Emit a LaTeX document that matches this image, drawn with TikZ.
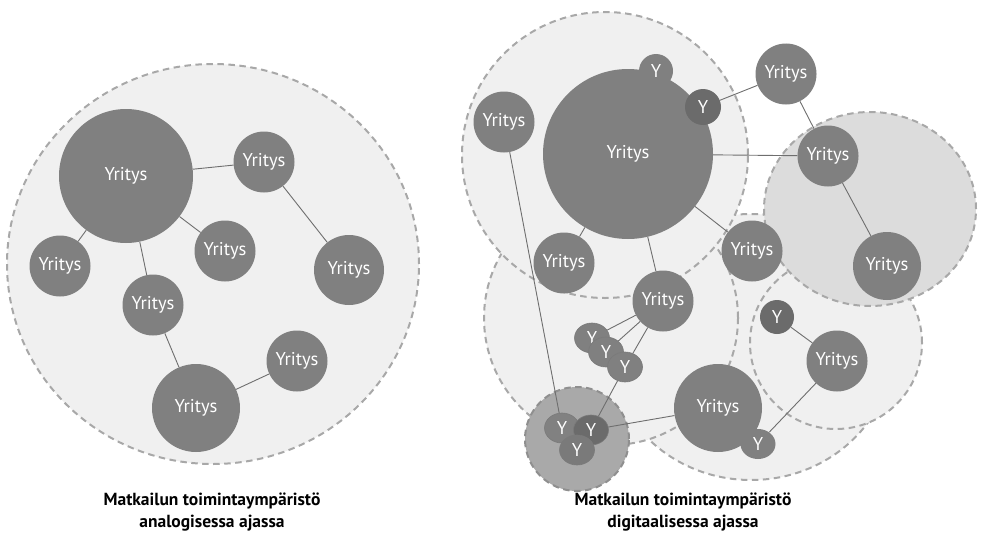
\documentclass[tikz,border=0pt]{standalone}
\usepackage{fontspec}
\setmainfont{PT Sans}
\usepackage{tikz}
\usetikzlibrary{shapes.geometric}
\definecolor{firmgray}{HTML}{808080}
\definecolor{firmdark}{HTML}{6B6B6B}
\definecolor{firmmid}{HTML}{7A7A7A}
\definecolor{zonefill}{HTML}{F0F0F0}
\definecolor{zonedark}{HTML}{DCDCDC}
\definecolor{hubfill}{HTML}{A9A9A9}
\definecolor{zoneline}{HTML}{A8A8A8}
\definecolor{linkgray}{HTML}{6E6E6E}
\newcommand{\firmfont}{\fontsize{18.5}{20}\selectfont}
\newcommand{\captionfont}{\fontsize{17.5}{22}\selectfont\bfseries}
\tikzset{
  firm/.style={circle, fill=firmgray, text=white, inner sep=0pt, minimum size=61pt, font=\firmfont},
  smallfirm/.style={ellipse, fill=firmgray, draw=firmmid, line width=0.6pt, text=white, inner sep=0pt, minimum width=35pt, minimum height=30pt, font=\firmfont},
  zone/.style={fill=zonefill, draw=zoneline, dash pattern=on 6.5pt off 4.5pt, line width=2pt},
  link/.style={draw=linkgray, line width=0.9pt},
  caption/.style={font=\captionfont, align=center}
}

\begin{document}
\begin{tikzpicture}[x=1pt, y=-1pt]
            \useasboundingbox (0,0) rectangle (984,551);
            % analoginen
            \draw[zone] (213,264) ellipse (206pt and 200pt);
            \node[firm, minimum size=134pt] (lbig) at (126,176) {Yritys};
            \node[firm] (ltop) at (264,162) {Yritys};
            \node[firm] (lwest) at (60,266) {Yritys};
            \node[firm] (lmid) at (225,251) {Yritys};
            \node[firm, minimum size=70pt] (least) at (349,270) {Yritys};
            \node[firm] (lcent) at (153,305) {Yritys};
            \node[firm] (lsoutheast) at (297,361) {Yritys};
            \node[firm, minimum size=88pt] (lsouth) at (196,408) {Yritys};
            \draw[link] (lbig) to (ltop);
            \draw[link] (lbig) to (lwest);
            \draw[link] (lbig) to (lmid);
            \draw[link] (lbig) to (lcent);
            \draw[link] (ltop) to (least);
            \draw[link] (lcent) to (lsouth);
            \draw[link] (lsouth) to (lsoutheast);
            % digitaalinen
            \draw[zone] (751,347) ellipse (142pt and 133pt);
            \draw[zone] (611,318) circle (127pt);
            \draw[zone] (605,155) circle (143pt);
            \draw[zone] (836,343) circle (86pt);
            \draw[zone, fill=zonedark] (870,209) ellipse (106pt and 97pt);
            \draw[zone, fill=hubfill, draw=zoneline!85!black] (577,439) circle (52pt);
            \node[firm, minimum size=170pt] (rbig) at (628,154) {Yritys};
            \node[firm, minimum size=34pt] (rytop) at (656,71) {Y};
            \node[firm, fill=firmdark, minimum size=36pt] (rydark) at (703,107) {Y};
            \node[firm] (rnw) at (504,122) {Yritys};
            \node[firm] (rne) at (786,74) {Yritys};
            \node[firm] (rhub) at (828,156) {Yritys};
            \node[firm, minimum size=68pt] (rfar) at (887,266) {Yritys};
            \node[firm] (rmid) at (752,251) {Yritys};
            \node[firm] (rsw) at (564,263) {Yritys};
            \node[firm] (rcent) at (663,301) {Yritys};
            \node[smallfirm] (ry1) at (592,338) {Y};
            \node[smallfirm] (ry2) at (606,352) {Y};
            \node[smallfirm] (ry3) at (625,367) {Y};
            \node[smallfirm, fill=firmmid!95!white] (rya) at (562,428) {Y};
            \node[smallfirm, fill=firmdark] (ryb) at (591,430) {Y};
            \node[smallfirm, fill=firmmid] (ryc) at (577,450) {Y};
            \node[firm, minimum size=88pt] (rlow) at (718,408) {Yritys};
            \node[smallfirm, draw=none] (rysm) at (758,444) {Y};
            \node[firm, fill=firmdark, minimum size=34pt] (rydark2) at (777,317) {Y};
            \node[firm] (rse) at (837,361) {Yritys};
            \draw[link] (rydark) to (rne);
            \draw[link] (rne) to (rhub);
            \draw[link] (rbig) to (rhub);
            \draw[link] (rhub) to (rfar);
            \draw[link] (rbig) to (rmid);
            \draw[link] (rbig) to (rsw);
            \draw[link] (rbig) to (rcent);
            \draw[link] (rnw) to (rya);
            \draw[link] (rcent) to (ry1);
            \draw[link] (rcent) to (ry2);
            \draw[link] (rcent) to (ry3);
            \draw[link] (ry3) to (ryb);
            \draw[link] (ryb) to (rlow);
            \draw[link] (rysm) to (rse);
            \draw[link] (rydark2) to (rse);
            % otsikot
            \node[caption] (capA) at (212,512) {Matkailun toimintaympäristö\\analogisessa ajassa};
            \node[caption] (capB) at (683,512) {Matkailun toimintaympäristö\\digitaalisessa ajassa};
        \end{tikzpicture}
\end{document}
